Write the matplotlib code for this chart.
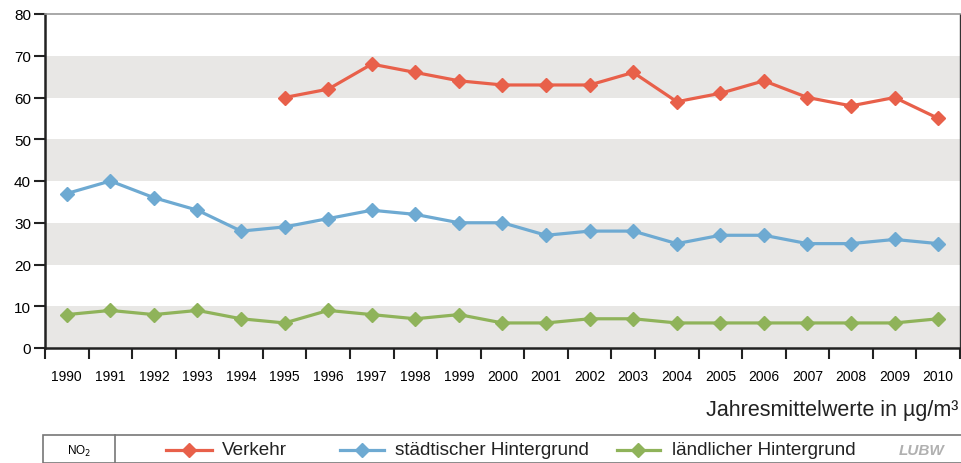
import matplotlib.pyplot as plt
from matplotlib.patches import Rectangle
from matplotlib.lines import Line2D
import numpy as np

plt.rcParams['font.family'] = ['Liberation Sans', 'DejaVu Sans']

# Daten
jahre = [str(j) for j in range(1990, 2011)]
verkehr = [None, None, None, None, None, 60, 62, 68, 66, 64, 63, 63, 63, 66, 59, 61, 64, 60, 58, 60, 55]
staedtisch = [37, 40, 36, 33, 28, 29, 31, 33, 32, 30, 30, 27, 28, 28, 25, 27, 27, 25, 25, 26, 25]
laendlich = [8, 9, 8, 9, 7, 6, 9, 8, 7, 8, 6, 6, 7, 7, 6, 6, 6, 6, 6, 6, 7]
y_ticks = [0, 10, 20, 30, 40, 50, 60, 70, 80]

farbe_rot = '#e8604a'
farbe_blau = '#6eaad2'
farbe_gruen = '#8fb35a'
band = '#e8e7e5'

fig = plt.figure(figsize=(9.62, 4.64), dpi=100)
ax = fig.add_axes([45 / 962, 1 - 349 / 464, 915 / 962, 334 / 464])

x = np.arange(len(jahre))
for unten in [0, 20, 40, 60]:
    ax.axhspan(unten, unten + 10, color=band, zorder=0, lw=0)

v = np.array([np.nan if w is None else w for w in verkehr], dtype=float)
ax.plot(x, v, color=farbe_rot, lw=2.3, marker='D', ms=7.5, zorder=3)
ax.plot(x, staedtisch, color=farbe_blau, lw=2.3, marker='D', ms=7.5, zorder=3)
ax.plot(x, laendlich, color=farbe_gruen, lw=2.3, marker='D', ms=7.5, zorder=3)

ax.set_xlim(-0.5, len(jahre) - 0.5)
ax.set_ylim(0, 80)
ax.set_yticks(y_ticks)
ax.set_yticklabels([str(t) for t in y_ticks], fontsize=11)
ax.set_xticks(x)
ax.set_xticklabels(jahre, fontsize=10)
ax.tick_params(axis='x', which='major', length=0, pad=15)
ax.set_xticks(np.arange(-0.5, len(jahre)), minor=True)
ax.tick_params(axis='x', which='minor', length=8, width=1.5, direction='out', color='#222222')
ax.tick_params(axis='y', length=8, width=1.5, direction='out', color='#222222', pad=2)

ax.spines['left'].set_linewidth(1.8)
ax.spines['left'].set_color('#222222')
ax.spines['bottom'].set_linewidth(1.8)
ax.spines['bottom'].set_color('#222222')
ax.spines['top'].set_color('#999999')
ax.spines['top'].set_linewidth(1.2)
ax.spines['right'].set_color('#333333')
ax.spines['right'].set_linewidth(1.0)

fig.text(958 / 962, 1 - 411 / 464, 'Jahresmittelwerte in µg/m³', ha='right', va='center', fontsize=15.5, color='#222222')

# Legendenkasten
fig.patches.append(Rectangle((43 / 962, 0), 0.99, (464 - 436) / 464, transform=fig.transFigure,
                             fill=False, ec='#777777', lw=1.2))
fig.lines.append(Line2D([115 / 962, 115 / 962], [0, (464 - 436) / 464], transform=fig.transFigure, color='#777777', lw=1.2))
ly = 1 - 451 / 464
fig.text(79 / 962, ly, 'NO$_2$', ha='center', va='center', fontsize=8.5)
eintraege = [(166, 212, 222, farbe_rot, 'Verkehr'),
             (340, 384, 395, farbe_blau, 'städtischer Hintergrund'),
             (617, 660, 672, farbe_gruen, 'ländlicher Hintergrund')]
for x0, x1, xt, c, name in eintraege:
    fig.lines.append(Line2D([x0 / 962, x1 / 962], [ly, ly], transform=fig.transFigure, color=c, lw=2.3))
    fig.lines.append(Line2D([(x0 + x1) / 2 / 962], [ly], transform=fig.transFigure, color=c, marker='D', ms=7))
    fig.text(xt / 962, ly, name, ha='left', va='center', fontsize=13.6, color='#222222')
fig.text(944 / 962, ly, 'LUBW', ha='right', va='center', fontsize=11, color='#b0b0b0',
         fontweight='bold', fontstyle='italic')

fig.savefig('out.png', dpi=100)
